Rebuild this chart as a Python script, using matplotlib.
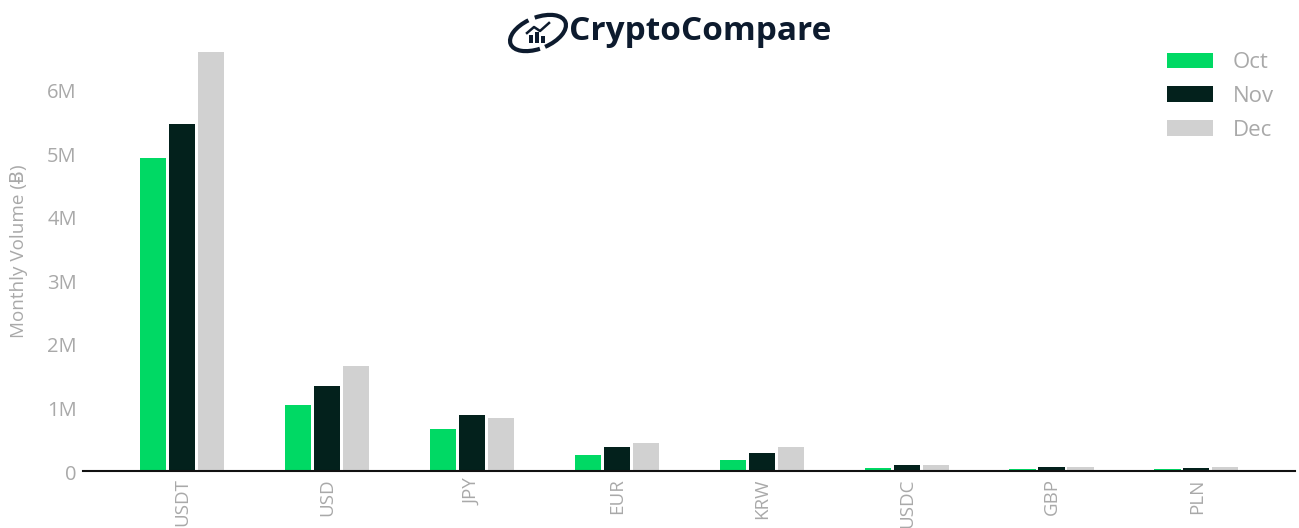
import matplotlib
matplotlib.use('Agg')
import numpy as np
import matplotlib.pyplot as plt
from matplotlib.patches import Arc, Rectangle
from matplotlib.lines import Line2D
from matplotlib.transforms import ScaledTranslation

plt.rcParams['font.family'] = ['Open Sans', 'DejaVu Sans']

categories = ['USDT', 'USD', 'JPY', 'EUR', 'KRW', 'USDC', 'GBP', 'PLN']
oct_vol = [4.91, 1.02, 0.65, 0.24, 0.16, 0.035, 0.015, 0.02]
nov_vol = [5.45, 1.33, 0.87, 0.37, 0.27, 0.08, 0.045, 0.035]
dec_vol = [6.58, 1.63, 0.82, 0.43, 0.37, 0.08, 0.05, 0.045]
y_ticks = [0, 1, 2, 3, 4, 5, 6]
y_labels = ['0', '1M', '2M', '3M', '4M', '5M', '6M']

W, H = 1299, 528
GREY = '#a9a9a9'

fig = plt.figure(figsize=(W/100, H/100), dpi=100)
ax = fig.add_axes([83/W, 1 - 470/H, (1295 - 83)/W, (470 - 40)/H])

x = np.arange(len(categories))
w = 0.18
ax.bar(x - 0.2, oct_vol, w, color='#00d964', label='Oct')
ax.bar(x, nov_vol, w, color='#03211c', label='Nov')
ax.bar(x + 0.2, dec_vol, w, color='#d1d1d1', label='Dec')

ax.set_xlim(-0.683, 7.68)
ax.set_ylim(0, 430/63.5)

for s in ['top', 'right', 'left']:
    ax.spines[s].set_visible(False)
ax.spines['bottom'].set_linewidth(1.5)
ax.spines['bottom'].set_color('#111111')
ax.spines['bottom'].set_position(('outward', 1.0))

ax.set_yticks(y_ticks, y_labels)
ax.set_xticks(x, categories, rotation=90)
ax.tick_params(axis='y', length=0, pad=4.5, labelsize=14.5, labelcolor=GREY)
ax.tick_params(axis='x', length=0, pad=5, labelsize=13.5, labelcolor=GREY)

# nudge tick labels a pixel or two
for t in ax.get_xticklabels():
    t.set_transform(t.get_transform() + ScaledTranslation(0.5/100, 0, fig.dpi_scale_trans))
for t in ax.get_yticklabels():
    t.set_transform(t.get_transform() + ScaledTranslation(0, -2/100, fig.dpi_scale_trans))

ax.set_ylabel('Monthly Volume (Ƀ)', fontsize=13.6, color=GREY)
ax.yaxis.set_label_coords((28 - 83)/(1295 - 83), 0.51)

ax.legend(loc='upper left', bbox_to_anchor=((1167 - 83)/(1295 - 83), 1.0 - 12/430),
          frameon=False, fontsize=16, labelcolor=GREY, handlelength=2.07,
          handleheight=0.68, handletextpad=0.9, labelspacing=0.58,
          borderpad=0, borderaxespad=0)

# logo: ring, little bars and the name
logo = fig.add_axes([0, 0, 1, 1], facecolor='none')
logo.set_xlim(0, W)
logo.set_ylim(H, 0)
logo.axis('off')
navy = '#0d1b2e'
logo.add_patch(Arc((538, 33), 59, 31, angle=-22, theta1=105, theta2=255, color=navy, lw=3))
logo.add_patch(Arc((538, 33), 59, 31, angle=-22, theta1=280, theta2=445, color=navy, lw=3))
for bx, bh in zip([529, 535, 541], [8, 11, 7]):
    logo.add_patch(Rectangle((bx, 43 - bh), 4, bh, color=navy, lw=0))
logo.add_line(Line2D([527, 534, 540, 549], [33, 27, 31, 23], color=navy, lw=1.8))
logo.text(569, 32, 'CryptoCompare', fontsize=24, fontweight='bold', color=navy,
          family=['Open Sans', 'DejaVu Sans'], va='center', ha='left')

fig.savefig('out.png', dpi=100)
